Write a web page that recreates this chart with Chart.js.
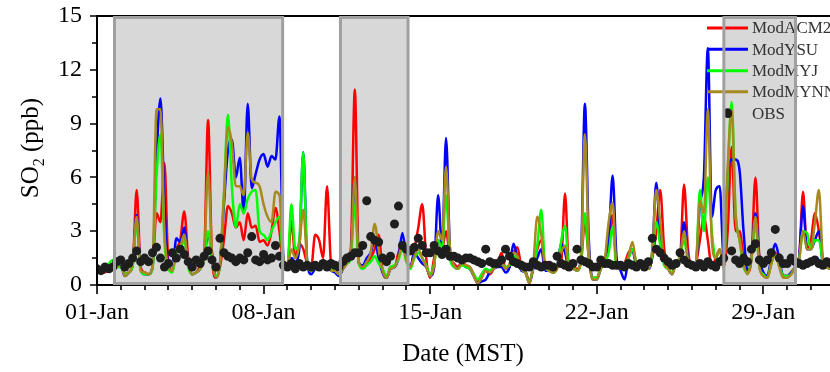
<!DOCTYPE html>
<html>
<head>
<meta charset="utf-8">
<script src="https://cdn.jsdelivr.net/npm/chart.js@4.4.1/dist/chart.umd.min.js"></script>
<style>
  body { margin: 0; background: #fff; }
  #wrap { width: 830px; height: 372px; position: relative; }
</style>
</head>
<body>
<div id="wrap"><canvas id="so2Chart"></canvas></div>
<script>
// x axis is "days since 01-Jan 00:00 MST"
const xTickDays = [0, 7, 14, 21, 28];
const xTickLabels = ["01-Jan", "08-Jan", "15-Jan", "22-Jan", "29-Jan"];
const yTicks = [0, 3, 6, 9, 12, 15];
const seriesNames = ["ModACM2", "ModYSU", "ModMYJ", "ModMYNN", "OBS"];
const seriesColors = ["#ff0000", "#0000ff", "#00ff00", "#a68a1f", "#1e1e1e"];

// shaded periods (days)
const boxStart = [0.735, 10.23, 26.34];
const boxEnd = [7.80, 13.07, 29.35];

// 4-hourly values, 6 per day (ppb)
const modACM2 = [
  0.9,0.8,0.7,0.9,1.1,1.0,  1.2,0.6,0.7,1.1,5.3,1.0,  0.7,0.6,1.0,4.0,3.5,6.8,
  1.2,0.8,2.0,2.5,4.1,1.5,  0.6,0.7,1.0,1.5,9.2,1.5,  0.4,1.0,2.5,4.4,4.0,3.2,
  3.5,2.5,4.0,3.2,3.3,2.4,  2.5,2.2,3.0,4.3,3.0,1.2,  1.0,3.6,1.5,2.3,2.0,1.2,
  1.0,2.8,2.5,1.5,5.5,1.2,  0.8,0.6,0.9,1.2,2.0,10.9, 1.3,1.0,1.2,1.5,2.0,2.8,
  0.8,0.4,1.0,1.0,1.8,2.4,  1.5,1.0,2.0,3.2,4.5,1.5,  0.4,1.5,2.5,2.0,3.0,1.5,
  1.2,1.0,1.3,1.1,1.0,0.6,  0.2,0.6,0.8,0.6,0.9,1.2,  1.8,0.9,1.0,1.8,2.1,1.0,
  0.8,0.2,1.0,2.0,2.5,1.0,  0.8,0.7,1.0,1.2,5.1,1.0,  1.0,0.9,1.2,3.5,1.5,0.4,
  0.4,1.0,1.5,2.0,3.9,1.2,  1.0,1.2,1.8,2.0,1.0,1.3,  1.0,0.9,1.5,3.0,5.3,2.0,
  1.0,0.7,1.2,1.5,5.6,2.0,  1.0,1.2,2.5,3.8,2.5,1.0,  1.5,2.0,1.0,3.0,7.7,3.0,
  3.0,1.5,0.7,1.5,6.0,1.5,  0.6,0.4,1.2,1.8,1.2,0.5,  0.5,0.6,1.0,1.5,5.2,2.0,
  2.5,4.0,3.0,1.5,1.0,0.9
];
const modYSU = [
  0.9,0.8,0.8,0.9,1.0,1.0,  1.1,0.5,0.7,1.2,3.9,0.9,  0.6,0.6,1.0,7.0,10.4,4.5,
  1.0,0.8,2.6,2.4,3.2,1.2,  0.6,0.7,0.9,1.5,2.8,1.8,  0.4,1.2,4.5,7.5,8.1,6.0,
  7.1,4.0,10.1,5.4,6.2,7.0, 7.3,6.6,7.2,7.0,9.4,1.5,  1.0,1.5,1.3,2.0,7.4,1.3,
  0.6,0.9,1.0,1.0,1.0,0.8,  0.7,0.5,0.9,1.3,1.8,6.0,  1.2,1.1,1.5,1.8,2.5,1.5,
  0.7,0.4,0.9,1.0,1.5,2.9,  1.5,1.0,1.8,1.5,1.2,1.0,  0.5,1.0,5.0,2.0,8.2,2.0,
  1.1,0.9,1.2,1.0,0.9,0.5,  0.1,0.2,0.3,0.7,0.9,1.0,  1.0,0.7,1.0,2.3,1.5,0.8,
  0.7,0.1,0.9,1.5,2.0,0.8,  0.8,0.7,1.0,2.3,1.8,0.9,  0.9,0.8,1.5,10.1,2.5,0.3,
  0.3,0.9,1.5,2.5,6.1,1.5,  0.8,0.3,1.5,1.9,1.2,1.0,  1.0,0.9,1.8,5.7,2.5,1.2,
  0.9,0.6,1.3,1.5,3.5,1.5,  1.0,1.2,4.5,6.0,13.2,3.8, 5.3,5.5,1.5,6.0,7.0,7.0,
  6.4,3.0,0.8,1.5,4.0,1.5,  0.7,0.5,1.5,2.3,1.5,0.5,  0.5,0.7,1.0,1.5,4.4,2.0,
  2.0,2.5,3.0,1.2,1.0,0.9
];
const modMYJ = [
  0.9,0.8,0.9,1.2,1.4,1.0,  1.0,0.6,0.7,1.1,3.5,0.8,  0.6,0.6,0.9,6.0,8.4,2.5,
  0.9,0.7,1.8,2.0,2.5,1.0,  0.6,0.7,0.9,1.4,3.0,1.3,  0.5,1.2,5.0,9.5,5.5,3.2,
  4.5,4.0,4.8,5.2,5.3,3.0,  2.8,2.5,3.0,3.5,3.8,1.2,  1.0,4.5,2.0,2.5,7.4,1.2,
  0.8,1.0,1.1,1.1,1.2,0.9,  0.8,0.6,1.0,1.2,1.5,4.5,  1.2,0.9,1.1,1.3,1.6,1.2,
  0.9,0.5,1.0,1.1,1.4,2.0,  1.3,0.9,1.5,1.8,1.5,1.1,  0.6,1.2,2.5,2.0,5.0,1.5,
  1.0,0.9,1.1,1.0,0.9,0.6,  0.3,0.6,0.9,0.8,1.0,1.1,  1.2,1.0,1.1,1.6,1.5,0.9,
  0.7,0.2,1.0,2.2,4.2,1.0,  0.8,0.7,1.0,2.4,3.3,1.0,  1.0,0.8,1.3,4.0,1.5,0.4,
  0.4,0.9,1.2,1.8,3.2,1.0,  1.0,1.2,1.5,2.0,1.3,1.2,  1.0,0.9,1.7,3.5,2.2,1.1,
  0.9,0.7,1.2,1.6,2.5,1.3,  1.0,1.2,5.3,3.0,6.0,3.0,  1.5,2.0,1.0,6.0,10.2,4.0,
  2.5,1.0,0.7,1.5,3.5,1.0,  0.6,0.4,1.2,1.7,1.2,0.5,  0.5,0.6,1.0,1.4,3.0,2.9,
  2.0,2.5,2.5,1.3,1.0,0.9
];
const modMYNN = [
  0.9,0.8,0.8,1.0,1.2,1.0,  1.3,0.5,0.7,1.3,3.8,0.8,  0.7,0.6,1.0,9.8,9.8,3.0,
  1.0,0.8,2.0,2.2,2.8,1.2,  0.6,0.7,0.9,1.6,6.3,1.8,  0.4,1.2,5.0,8.8,7.9,5.5,
  5.5,5.0,8.5,5.9,5.7,5.5,  4.5,3.8,3.5,5.2,5.0,1.5,  1.0,2.0,1.5,2.2,4.2,1.3,
  0.8,1.0,1.0,1.0,1.3,0.8,  0.8,0.6,0.9,1.2,1.8,6.0,  1.3,1.0,1.3,1.8,3.4,2.0,
  0.8,0.4,0.9,1.0,1.5,2.3,  1.4,1.0,1.6,2.0,1.5,1.0,  0.5,1.1,3.0,2.5,6.6,2.0,
  1.1,0.9,1.2,1.1,1.0,0.5,  0.1,0.4,0.8,0.7,0.9,1.1,  1.2,0.9,1.2,1.8,1.6,0.9,
  0.7,0.1,1.2,3.8,2.8,1.0,  0.8,0.7,0.9,1.8,2.2,0.9,  0.9,0.8,1.4,8.4,2.0,0.3,
  0.3,0.9,1.4,3.5,4.6,1.0,  0.9,1.0,1.6,2.4,1.2,1.1,  1.0,0.9,2.0,5.3,3.5,1.3,
  0.9,0.6,1.2,1.6,3.0,1.4,  1.0,1.2,4.7,4.0,9.8,2.5,  1.5,2.0,0.9,6.5,9.8,4.0,
  2.5,1.2,0.6,1.5,3.8,1.0,  0.5,0.4,1.2,1.7,1.0,0.4,  0.4,0.6,1.0,1.4,3.0,2.0,
  2.0,3.5,5.3,1.5,1.0,0.9
];
const obs = [
  0.9,0.8,1.0,0.9,1.0,1.3,  1.4,1.0,1.2,1.5,1.9,1.3,  1.5,1.3,1.8,2.1,1.5,1.0,
  1.2,1.8,1.5,2.0,1.7,1.3,  1.0,1.4,1.2,1.6,1.9,1.4,  1.0,2.6,1.8,1.6,1.5,1.3,
  1.5,1.4,1.8,2.7,1.4,1.3,  1.7,1.4,1.5,2.2,1.6,1.1,  1.0,1.2,0.9,1.2,1.0,1.1,
  1.0,1.1,1.0,1.2,1.0,1.2,  1.1,1.0,1.3,1.5,1.6,1.8,  1.8,2.2,4.7,2.7,2.5,2.4,
  1.5,1.3,1.6,3.4,4.4,2.2,  2.0,1.9,2.1,2.6,2.2,1.8,  1.8,2.2,1.9,1.7,2.0,1.6,
  1.6,1.5,1.4,1.5,1.5,1.4,  1.3,1.2,2.0,1.3,1.2,1.2,  1.4,2.0,1.6,1.3,1.2,1.1,
  1.0,1.0,1.3,1.1,1.0,1.1,  1.1,1.0,1.6,1.2,1.1,1.0,  1.2,2.0,1.4,1.3,1.2,1.0,
  1.0,1.4,1.2,1.2,1.1,1.1,  1.1,1.0,1.2,1.1,1.0,1.2,  1.0,1.3,2.6,2.0,1.8,1.5,
  1.3,1.1,1.2,1.8,1.4,1.2,  1.1,1.0,1.2,1.0,1.3,1.1,  1.0,1.3,1.5,9.6,1.9,1.4,
  1.2,1.5,1.3,2.0,2.3,1.4,  1.2,1.4,1.8,3.1,1.5,1.2,  1.2,1.5,1.3,1.2,1.1,1.2,
  1.3,1.4,1.2,1.1,1.3,1.2
];

const STEP = 4 / 24; // 4 hours in days
function toPoints(arr) {
  return arr.map((v, i) => ({ x: i * STEP, y: v }));
}

function lineSet(idx, values, order) {
  return {
    label: seriesNames[idx],
    data: toPoints(values),
    borderColor: seriesColors[idx],
    borderWidth: 2.5,
    pointRadius: 0,
    tension: 0.3,
    cubicInterpolationMode: "monotone",
    fill: false,
    order: order
  };
}

const FONT = "'Liberation Serif', 'Times New Roman', serif";

const decorPlugin = {
  id: "decor",
  beforeDatasetsDraw(chart) {
    const { ctx, chartArea, scales } = chart;
    ctx.save();
    ctx.fillStyle = "#d8d8d8";
    for (let i = 0; i < boxStart.length; i++) {
      const x0 = scales.x.getPixelForValue(boxStart[i]);
      const x1 = scales.x.getPixelForValue(boxEnd[i]);
      ctx.fillRect(x0, chartArea.top, x1 - x0, chartArea.bottom - chartArea.top);
    }
    ctx.restore();
  },
  afterDatasetsDraw(chart) {
    const { ctx, chartArea, scales } = chart;
    const xs = scales.x, ys = scales.y;
    const L = chartArea.left, R = chartArea.right, T = chartArea.top, B = chartArea.bottom;
    ctx.save();

    // legend
    const legY = [28, 49.3, 70.7, 91.7, 114];
    ctx.lineWidth = 3;
    for (let i = 0; i < 4; i++) {
      ctx.strokeStyle = seriesColors[i];
      ctx.beginPath();
      ctx.moveTo(707, legY[i]);
      ctx.lineTo(748, legY[i]);
      ctx.stroke();
    }
    ctx.fillStyle = seriesColors[4];
    ctx.beginPath();
    ctx.arc(728, legY[4], 4, 0, Math.PI * 2);
    ctx.fill();
    ctx.font = "17px " + FONT;
    ctx.fillStyle = "#333";
    ctx.textBaseline = "middle";
    ctx.textAlign = "left";
    for (let i = 0; i < 5; i++) ctx.fillText(seriesNames[i], 752, legY[i] + 1);

    // frame
    ctx.strokeStyle = "#000";
    ctx.lineWidth = 2;
    ctx.beginPath();
    ctx.moveTo(L, B); ctx.lineTo(L, T); ctx.lineTo(R, T);
    ctx.moveTo(L - 1, B); ctx.lineTo(R, B);
    ctx.stroke();

    // ticks
    ctx.lineWidth = 1.6;
    ctx.beginPath();
    for (let d = 0; d <= 30; d++) {
      const px = Math.round(xs.getPixelForValue(d));
      const len = d % 7 === 0 ? 9 : 5;
      ctx.moveTo(px, B); ctx.lineTo(px, B + len);
    }
    for (let v = 0; v <= 15; v += 1.5) {
      const py = Math.round(ys.getPixelForValue(v));
      const len = v % 3 === 0 ? 7 : 5;
      ctx.moveTo(L, py); ctx.lineTo(L - len, py);
    }
    ctx.stroke();

    // box outlines
    ctx.strokeStyle = "#a0a0a0";
    ctx.lineWidth = 3;
    for (let i = 0; i < boxStart.length; i++) {
      const x0 = xs.getPixelForValue(boxStart[i]);
      const x1 = xs.getPixelForValue(boxEnd[i]);
      ctx.strokeRect(x0, T + 1.5, x1 - x0, B - T - 3);
    }

    // axis titles
    ctx.fillStyle = "#000";
    ctx.font = "25px " + FONT;
    ctx.textAlign = "center";
    ctx.textBaseline = "middle";
    ctx.fillText("Date (MST)", 463, 354);

    ctx.translate(30, 148);
    ctx.rotate(-Math.PI / 2);
    const big = "25px " + FONT, small = "16px " + FONT;
    ctx.font = big;
    const wSO = ctx.measureText("SO").width;
    const wRest = ctx.measureText(" (ppb)").width;
    ctx.font = small;
    const w2 = ctx.measureText("2").width;
    let x = -(wSO + w2 + wRest) / 2;
    ctx.textAlign = "left";
    ctx.textBaseline = "alphabetic";
    ctx.font = big;
    ctx.fillText("SO", x, 8);
    x += wSO;
    ctx.font = small;
    ctx.fillText("2", x, 14);
    x += w2;
    ctx.font = big;
    ctx.fillText(" (ppb)", x, 8);

    ctx.restore();
  }
};

new Chart(document.getElementById("so2Chart"), {
  type: "line",
  data: {
    datasets: [
      {
        label: seriesNames[4],
        data: toPoints(obs),
        showLine: false,
        pointRadius: 4.5,
        pointBorderWidth: 0,
        pointBackgroundColor: seriesColors[4],
        borderColor: seriesColors[4],
        order: 0
      },
      lineSet(3, modMYNN, 1),
      lineSet(2, modMYJ, 2),
      lineSet(1, modYSU, 3),
      lineSet(0, modACM2, 4)
    ]
  },
  options: {
    responsive: true,
    maintainAspectRatio: false,
    animation: false,
    layout: { autoPadding: false, padding: { top: 16, right: 0, left: 0, bottom: 0 } },
    plugins: {
      legend: { display: false },
      tooltip: { enabled: false }
    },
    scales: {
      x: {
        type: "linear",
        min: 0,
        max: 30.8,
        grid: { display: false },
        border: { display: false },
        afterBuildTicks: (scale) => {
          scale.ticks = xTickDays.map(v => ({ value: v }));
        },
        afterFit: (scale) => {
          scale.height = 87;
          scale.paddingLeft = 0;
          scale.paddingRight = 0;
        },
        ticks: {
          autoSkip: false,
          maxRotation: 0,
          padding: 5,
          color: "#000",
          font: { family: FONT, size: 24 },
          callback: (v) => xTickLabels[xTickDays.indexOf(v)]
        }
      },
      y: {
        min: 0,
        max: 15,
        grid: { display: false },
        border: { display: false },
        afterBuildTicks: (scale) => {
          scale.ticks = yTicks.map(v => ({ value: v }));
        },
        afterFit: (scale) => {
          scale.width = 97;
          scale.paddingTop = 0;
          scale.paddingBottom = 0;
        },
        ticks: {
          padding: 7,
          color: "#000",
          font: { family: FONT, size: 24 }
        }
      }
    }
  },
  plugins: [decorPlugin]
});
</script>
</body>
</html>
